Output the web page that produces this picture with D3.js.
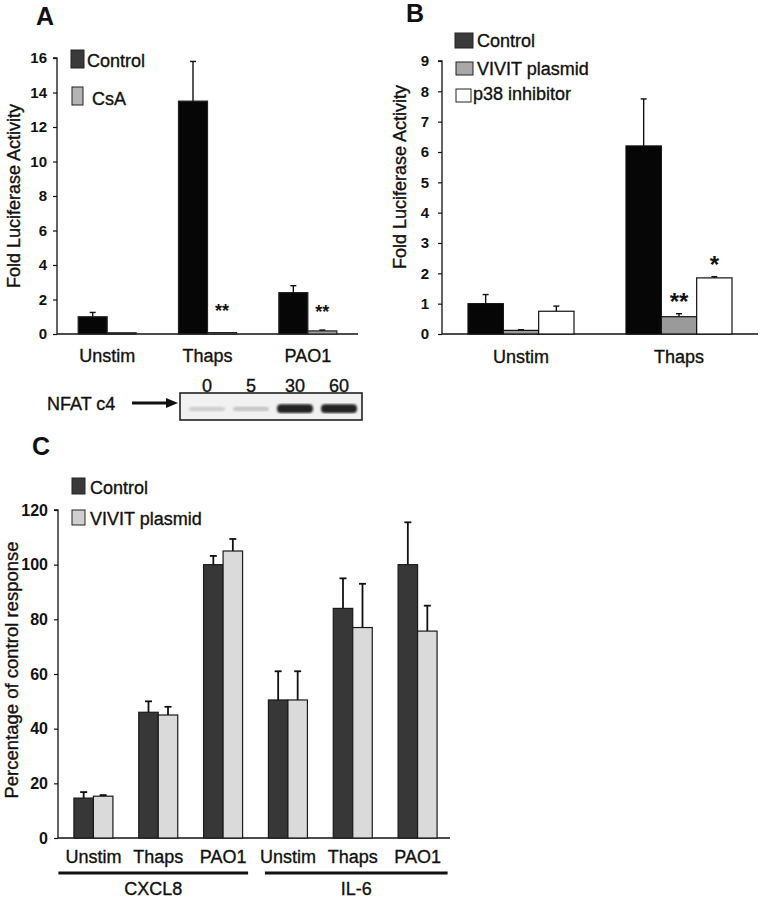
<!DOCTYPE html>
<html><head><meta charset="utf-8">
<script src="https://cdn.jsdelivr.net/npm/d3@7"></script>
<style>
html,body{margin:0;padding:0;background:#fff;}
svg text{font-family:"Liberation Sans",Arial,sans-serif;fill:#111;}
svg text.heavy{stroke:#111;stroke-width:0.35px;}
</style></head>
<body>
<svg id="fig" width="760" height="900"></svg>
<script>
// ---------- DATA ----------
// Panel A
const catsA = ["Unstim", "Thaps", "PAO1"];
const seriesA = ["Control", "CsA"];
const controlA = [1.0, 13.5, 2.4];
const controlAErr = [0.25, 2.3, 0.4];
const csaA = [0.07, 0.08, 0.18];
const csaAErr = [0.0, 0.0, 0.05];
const ticksA = [0, 2, 4, 6, 8, 10, 12, 14, 16];
const sigA = [{cat: "Thaps", series: "CsA", text: "**", at: 1.0}, {cat: "PAO1", series: "CsA", text: "**", at: 0.95}];
// Western blot (NFAT c4)
const blotLanes = ["0", "5", "30", "60"];
const blotIntensity = [0.12, 0.15, 0.95, 0.95];
// Panel B
const catsB = ["Unstim", "Thaps"];
const seriesB = ["Control", "VIVIT plasmid", "p38 inhibitor"];
const controlB = [1.0, 6.2];
const controlBErr = [0.3, 1.55];
const vivitB = [0.12, 0.57];
const vivitBErr = [0.02, 0.1];
const p38B = [0.75, 1.85];
const p38BErr = [0.17, 0.04];
const ticksB = [0, 1, 2, 3, 4, 5, 6, 7, 8, 9];
const sigB = [{cat: "Thaps", series: "VIVIT plasmid", text: "**", at: 0.8}, {cat: "Thaps", series: "p38 inhibitor", text: "*", at: 2.0}];
// Panel C
const catsC = ["Unstim", "Thaps", "PAO1", "Unstim ", "Thaps ", "PAO1 "];
const groupsC = [{name: "CXCL8", cats: ["Unstim", "Thaps", "PAO1"]}, {name: "IL-6", cats: ["Unstim ", "Thaps ", "PAO1 "]}];
const seriesC = ["Control", "VIVIT plasmid"];
const controlC = [14.6, 46, 100, 50.5, 84, 100];
const controlCErr = [2.2, 4, 3.2, 10.5, 11, 15.5];
const vivitC = [15.3, 45, 105, 50.5, 77, 75.7];
const vivitCErr = [0.4, 3, 4.4, 10.5, 16, 9.3];
const ticksC = [0, 20, 40, 60, 80, 100, 120];

// ---------- DRAW ----------
const svg = d3.select("#fig");
const defs = svg.append("defs");
defs.append("filter").attr("id", "blur").append("feGaussianBlur").attr("stdDeviation", 1.2);

function panel(cfg) {
  const g = svg.append("g");
  const x = d3.scalePoint().domain(cfg.cats).range(cfg.xRange).padding(0.5);
  const sub = d3.scaleBand().domain(cfg.series).range([-cfg.groupW / 2, cfg.groupW / 2]);
  const y = d3.scaleLinear().domain(cfg.yDomain).range(cfg.yRange);

  const ax = g.append("g").attr("transform", `translate(${cfg.axisX},0)`)
    .call(d3.axisLeft(y).tickValues(cfg.ticks).tickSize(4).tickPadding(cfg.tickPad).tickFormat(d3.format("d")));
  ax.select(".domain").attr("stroke", "#111").attr("stroke-width", 1.3).attr("d", `M-4,${cfg.yRange[1]}H0V${cfg.yRange[0]}`);
  ax.selectAll(".tick line").attr("stroke", "#111").attr("stroke-width", 1.2);
  ax.selectAll(".tick text").attr("font-size", cfg.tickFont).attr("font-weight", "bold").attr("fill", "#111")
    .attr("font-family", "Liberation Sans, Arial, sans-serif");

  g.append("line").attr("x1", cfg.axisX).attr("x2", cfg.baseEnd)
    .attr("y1", y(0)).attr("y2", y(0)).attr("stroke", "#111").attr("stroke-width", 1.5);

  const rows = [];
  cfg.cats.forEach((c, i) => cfg.series.forEach((s, j) => rows.push({
    c, s, v: cfg.values[j][i], e: cfg.errs[j][i], fill: cfg.fills[j]
  })));
  g.append("g").selectAll("rect").data(rows).join("rect")
    .attr("x", d => x(d.c) + sub(d.s))
    .attr("width", sub.bandwidth())
    .attr("y", d => y(d.v))
    .attr("height", d => y(0) - y(d.v))
    .attr("fill", d => d.fill)
    .attr("stroke", cfg.barStroke).attr("stroke-width", 1.2);
  const eb = g.append("g").attr("stroke", "#111").attr("stroke-width", cfg.errW);
  rows.filter(d => d.e > 0).forEach(d => {
    const cx = x(d.c) + sub(d.s) + sub.bandwidth() / 2;
    eb.append("line").attr("x1", cx).attr("x2", cx).attr("y1", y(d.v)).attr("y2", y(d.v + d.e));
    eb.append("line").attr("x1", cx - cfg.capW).attr("x2", cx + cfg.capW).attr("y1", y(d.v + d.e)).attr("y2", y(d.v + d.e));
  });
  (cfg.sig || []).forEach(s => {
    g.append("text").attr("x", x(s.cat) + sub(s.series) + sub.bandwidth() / 2)
      .attr("y", y(s.at)).attr("text-anchor", "middle")
      .attr("font-size", cfg.sigFont).attr("font-weight", "bold").text(s.text);
  });
  g.append("g").selectAll("text").data(cfg.cats).join("text").attr("class", "heavy")
    .attr("x", d => x(d)).attr("y", cfg.catY).attr("text-anchor", "middle")
    .attr("font-size", 18).text(d => d.trim());
  g.append("text").attr("class", "heavy").attr("transform", `translate(${cfg.yTitle[0]},${cfg.yTitle[1]}) rotate(-90)`)
    .attr("text-anchor", "middle").attr("dominant-baseline", "central")
    .attr("font-size", cfg.yTitleFont).text(cfg.yTitleText);
  cfg.legend.forEach((l, i) => {
    g.append("rect").attr("x", l.x).attr("y", l.y).attr("width", l.w).attr("height", l.h)
      .attr("fill", cfg.legendFills[i]).attr("stroke", "#222").attr("stroke-width", 1);
    g.append("text").attr("class", "heavy").attr("x", l.tx).attr("y", l.ty).attr("font-size", 18).text(cfg.series[i]);
  });
  g.append("text").attr("x", cfg.letter[0]).attr("y", cfg.letter[1]).attr("font-size", 25)
    .attr("font-weight", "bold").text(cfg.letter[2]);
  return {g, x, y, sub};
}

// Panel A
panel({
  cats: catsA, series: seriesA, values: [controlA, csaA], errs: [controlAErr, csaAErr],
  fills: ["#060606", "#9e9e9e"], legendFills: ["#3a3a3a", "#b4b4b4"], barStroke: "#222",
  xRange: [57, 358], groupW: 58, yDomain: [0, 16], yRange: [334, 58], ticks: ticksA,
  axisX: 57, baseEnd: 358, tickPad: 6, tickFont: 15, errW: 1.4, capW: 3,
  sig: sigA, sigFont: 18, catY: 362, yTitle: [14, 196], yTitleFont: 18, yTitleText: "Fold Luciferase Activity",
  legend: [{x: 71, y: 50, w: 13, h: 18, tx: 87, ty: 67}, {x: 72, y: 87, w: 11, h: 18, tx: 92, ty: 105}],
  letter: [36, 25, "A"]
});

// Panel B
panel({
  cats: catsB, series: seriesB, values: [controlB, vivitB, p38B], errs: [controlBErr, vivitBErr, p38BErr],
  fills: ["#060606", "#9a9a9a", "#ffffff"], legendFills: ["#3a3a3a", "#a8a8a8", "#ffffff"], barStroke: "#111",
  xRange: [442, 758], groupW: 106, yDomain: [0, 9], yRange: [334, 61], ticks: ticksB,
  axisX: 442, baseEnd: 758, tickPad: 9, tickFont: 15, errW: 1.4, capW: 3,
  sig: sigB, sigFont: 24, catY: 363, yTitle: [400, 177], yTitleFont: 18, yTitleText: "Fold Luciferase Activity",
  legend: [{x: 455, y: 33, w: 18, h: 15, tx: 477, ty: 47}, {x: 456, y: 62, w: 17, h: 13, tx: 477, ty: 75},
           {x: 456, y: 89, w: 15, h: 13, tx: 473, ty: 100}],
  letter: [406, 22, "B"]
});

// Panel C
const pc = panel({
  cats: catsC, series: seriesC, values: [controlC, vivitC], errs: [controlCErr, vivitCErr],
  fills: ["#373737", "#dadada"], legendFills: ["#3a3a3a", "#cfcfcf"], barStroke: "#1a1a1a",
  xRange: [61, 450], groupW: 39, yDomain: [0, 120], yRange: [838, 510], ticks: ticksC,
  axisX: 58, baseEnd: 450, tickPad: 6, tickFont: 16, errW: 1.8, capW: 3.5,
  sig: [], sigFont: 18, catY: 863, yTitle: [11, 670], yTitleFont: 18.5, yTitleText: "Percentage of control response",
  legend: [{x: 72, y: 478, w: 13, h: 16, tx: 90, ty: 494}, {x: 72, y: 510, w: 13, h: 15, tx: 90, ty: 525}],
  letter: [32, 455, "C"]
});
const bracketPad = [[35, 25], [23, 30]];
groupsC.forEach((gr, i) => {
  const x0 = pc.x(gr.cats[0]) - bracketPad[i][0], x1 = pc.x(gr.cats[gr.cats.length - 1]) + bracketPad[i][1];
  pc.g.append("line").attr("x1", x0).attr("x2", x1).attr("y1", 873).attr("y2", 873)
    .attr("stroke", "#111").attr("stroke-width", 3);
  pc.g.append("text").attr("class", "heavy").attr("x", (x0 + x1) / 2).attr("y", 895).attr("text-anchor", "middle")
    .attr("font-size", 18).text(gr.name);
});

// ---------- Western blot ----------
const blot = svg.append("g");
const lx = d3.scalePoint().domain(blotLanes).range([185, 361]).padding(0.5);
blot.append("rect").attr("x", 180).attr("y", 393).attr("width", 182).attr("height", 27)
  .attr("fill", "#f1f1f1").attr("stroke", "#222").attr("stroke-width", 1.6);
const shade = d3.interpolateRgb("#e6e6e6", "#1a1a1a");
blot.selectAll("rect.band").data(blotLanes).join("rect").attr("class", "band")
  .attr("x", d => lx(d) - 18).attr("width", 36)
  .attr("y", (d, i) => 407 - 3 * blotIntensity[i]).attr("height", (d, i) => 4 + 5 * blotIntensity[i])
  .attr("rx", 4)
  .attr("fill", (d, i) => shade(blotIntensity[i]))
  .attr("filter", "url(#blur)");
blot.selectAll("text.lane").data(blotLanes).join("text").attr("class", "lane heavy")
  .attr("x", d => lx(d)).attr("y", 392).attr("text-anchor", "middle").attr("font-size", 18).text(d => d);
blot.append("text").attr("class", "heavy").attr("x", 47).attr("y", 410).attr("font-size", 18).text("NFAT c4");
blot.append("line").attr("x1", 132).attr("x2", 168).attr("y1", 403).attr("y2", 403)
  .attr("stroke", "#111").attr("stroke-width", 3);
blot.append("path").attr("d", "M166,398 L178,403 L166,408 Z").attr("fill", "#111");
</script>
</body></html>
